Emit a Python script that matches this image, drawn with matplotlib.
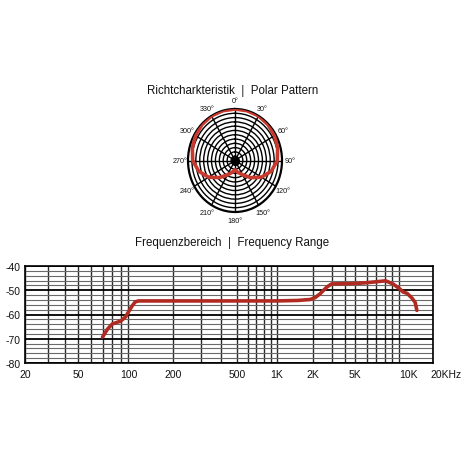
import numpy as np
import matplotlib
matplotlib.use('Agg')
import matplotlib.pyplot as plt
import matplotlib.transforms as mtransforms
from matplotlib.ticker import FixedLocator, FixedFormatter, NullFormatter

plt.rcParams['font.family'] = ['Liberation Sans Narrow', 'Liberation Sans', 'DejaVu Sans']
plt.rcParams['axes.unicode_minus'] = False

# ---------------- data ----------------
title_polar = "Richtcharkteristik  |  Polar Pattern"
title_freq = "Frequenzbereich  |  Frequency Range"

# polar pattern (one half, mirrored)
polar_angles_deg = [0, 15, 30, 45, 60, 75, 90, 105, 120, 135, 150, 165, 180]
polar_level = [1.0, 1.0, 1.0, 0.99, 0.97, 0.94, 0.90, 0.80, 0.65, 0.47, 0.32, 0.24, 0.18]
theta_tick_deg = [0, 30, 60, 90, 120, 150, 180, 210, 240, 270, 300, 330]
theta_tick_labels = ['0°', '30°', '60°', '90°', '120°', '150°', '180°',
                     '210°', '240°', '270°', '300°', '330°']

# frequency response
freq_hz = [70, 75, 80, 90, 96, 100, 106, 111, 117, 200, 500, 1000, 1500, 1900,
           2100, 2330, 2700, 3000, 4000, 5000, 5700, 7000, 8100, 9100, 10200,
           10850, 11800, 13000, 13900, 14400]
level_db = [-69.3, -66.0, -63.9, -62.7, -61.0, -58.9, -56.4, -54.8, -54.4, -54.4,
            -54.4, -54.4, -54.2, -53.8, -53.0, -51.5, -48.7, -47.4, -47.3, -47.2,
            -47.0, -46.5, -46.1, -47.4, -49.5, -50.7, -51.3, -53.2, -55.0, -58.3]
freq_tick_values = [20, 50, 100, 200, 500, 1000, 2000, 5000, 10000, 20000]
freq_tick_labels = ['20', '50', '100', '200', '500', '1K', '2K', '5K', '10K', '20KHz']
freq_minor_values = [30, 40, 60, 70, 80, 90, 300, 400, 600, 700, 800, 900,
                     3000, 4000, 6000, 7000, 8000, 9000]
db_major = [-80, -70, -60, -50, -40]
db_minor = list(range(-78, -40, 2))

# ---------------- layout ----------------
W = H = 464.0
fig = plt.figure(figsize=(4.64, 4.64), dpi=100, facecolor='white')

fig.text(233 / W, 1 - 91 / H, title_polar, ha='center', va='center', fontsize=8.3, color='#111111')
fig.text(232 / W, 1 - 243 / H, title_freq, ha='center', va='center', fontsize=8.3, color='#111111')

# polar axes (slightly elliptic as in the original)
pl, pr, pt, pb = 188, 282, 110, 213
axp = fig.add_axes([pl / W, 1 - pb / H, (pr - pl) / W, (pb - pt) / H], projection='polar')
axp.set_aspect('auto')
axp.set_theta_zero_location('N')
axp.set_theta_direction(-1)
axp.set_ylim(0, 1.0)
rings = np.arange(1, 12) / 12.0
axp.set_rgrids(rings, labels=[''] * len(rings))
axp.set_thetagrids(theta_tick_deg, theta_tick_labels)
axp.tick_params(axis='x', labelsize=5.2, pad=-4.5, colors='#111111')
axp.grid(True, color='black', lw=1.0)
axp.spines['polar'].set_linewidth(1.6)
axp.set_facecolor('white')

ang = np.array(polar_angles_deg, dtype=float)
lev = np.array(polar_level, dtype=float)
full_ang = np.concatenate([ang, 360 - ang[::-1][1:]])
full_lev = np.concatenate([lev, lev[::-1][1:]])
axp.plot(np.deg2rad(full_ang), full_lev, color='#c8392e', lw=2.6, solid_joinstyle='round', zorder=5)
axp.scatter([0], [0], s=30, color='black', zorder=6)

# frequency axes with the chart's own (slightly irregular) log scale
anchor_freq = np.log10([20, 50, 100, 200, 500, 1000, 2000, 5000, 10000, 20000])
anchor_pos = np.array([25, 78, 128.5, 173, 237, 277, 313, 355, 399, 433], dtype=float)
anchor_pos = (anchor_pos - anchor_pos[0]) / (anchor_pos[-1] - anchor_pos[0])


def fwd(f):
    with np.errstate(divide='ignore', invalid='ignore'):
        lf = np.log10(np.clip(np.asarray(f, dtype=float), 1e-6, None))
    return np.interp(lf, anchor_freq, anchor_pos)


def inv(p):
    return 10 ** np.interp(np.asarray(p, dtype=float), anchor_pos, anchor_freq)


al, ar, at, ab = 25, 433, 267, 364
ax = fig.add_axes([al / W, 1 - ab / H, (ar - al) / W, (ab - at) / H])
ax.set_xscale('function', functions=(fwd, inv))
ax.set_xlim(20, 20000)
ax.set_ylim(-80, -40)

ax.xaxis.set_major_locator(FixedLocator(freq_tick_values))
ax.xaxis.set_major_formatter(FixedFormatter(freq_tick_labels))
ax.xaxis.set_minor_locator(FixedLocator(freq_minor_values))
ax.xaxis.set_minor_formatter(NullFormatter())
ax.yaxis.set_major_locator(FixedLocator(db_major))
ax.yaxis.set_minor_locator(FixedLocator(db_minor))
ax.yaxis.set_minor_formatter(NullFormatter())

ax.tick_params(axis='both', which='both', length=0, labelsize=7.5, colors='#111111')
ax.tick_params(axis='x', pad=4.5)
ax.tick_params(axis='y', pad=3)

ax.grid(True, axis='x', which='both', color='#2a2a2a', lw=1.0)
ax.grid(True, axis='y', which='major', color='black', lw=1.3)
ax.grid(True, axis='y', which='minor', color='#6a6a6a', lw=0.8)
ax.set_axisbelow(True)
for s in ax.spines.values():
    s.set_color('black')
    s.set_linewidth(1.2)

shift_left = mtransforms.ScaledTranslation(-3 / 100, 0, fig.dpi_scale_trans)
for lbl in ax.get_xticklabels():
    if lbl.get_text() == '10K':
        lbl.set_ha('left')
    if lbl.get_text() == '20KHz':
        lbl.set_ha('left')
        lbl.set_transform(lbl.get_transform() + shift_left)

ax.plot(freq_hz, level_db, color='#b02a22', lw=2.6, solid_capstyle='round',
        solid_joinstyle='round', zorder=5)

fig.savefig('out.png', dpi=100, facecolor='white')
